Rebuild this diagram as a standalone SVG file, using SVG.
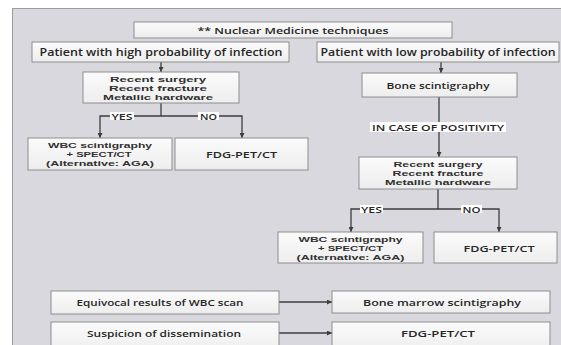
<svg xmlns="http://www.w3.org/2000/svg" width="561" height="345" viewBox="0 0 561 345">
<defs>
<linearGradient id="bg" x1="0" y1="0" x2="0" y2="1">
<stop offset="0" stop-color="#fbfbfb"/>
<stop offset="1" stop-color="#ededed"/>
</linearGradient>
<marker id="ah" viewBox="0 0 6 6" refX="6" refY="3" markerWidth="5" markerHeight="5" markerUnits="userSpaceOnUse" orient="auto">
<path d="M0,0 L6,3 L0,6 z" fill="#3c3c3c"/>
</marker>
</defs>
<style>
.box{fill:url(#bg);stroke:#8e8e8e;stroke-width:1}
.t{font-family:"Open Sans","Liberation Sans",sans-serif;font-weight:600;font-size:9.5px;fill:#262626;text-anchor:middle}
.big{font-size:10.5px}
.m{font-family:"Liberation Sans",Arial,sans-serif;font-weight:bold;font-size:8px;fill:#303030;text-anchor:middle}
.ln{fill:none;stroke:#3c3c3c;stroke-width:1.3}
.arr{fill:none;stroke:#3c3c3c;stroke-width:1.3;marker-end:url(#ah)}
.lab{fill:#ffffff}
</style>
<rect width="561" height="345" fill="#ffffff"/>
<rect x="12.5" y="8.5" width="560" height="350" fill="#d9d8de" stroke="#9c9c9c" stroke-width="1"/>

<g id="connectors">
<line class="arr" x1="161" y1="62" x2="161" y2="72"/>
<line class="arr" x1="441" y1="62" x2="441" y2="73"/>
<line class="arr" x1="439" y1="97" x2="439" y2="157"/>
<polyline class="ln" points="161,103 161,116"/>
<polyline class="arr" points="161,116 100,116 100,138"/>
<polyline class="arr" points="161,116 242,116 242,138"/>
<polyline class="ln" points="438,189 438,209"/>
<polyline class="arr" points="438,209 351,209 351,232"/>
<polyline class="arr" points="438,209 499,209 499,232"/>
<line class="arr" x1="279" y1="302" x2="332" y2="302"/>
<line class="arr" x1="279" y1="333" x2="332" y2="333"/>
<rect class="lab" x="110" y="112" width="24" height="8"/>
<text class="t" x="122" y="119.5" textLength="21" lengthAdjust="spacingAndGlyphs">YES</text>
<rect class="lab" x="198" y="112" width="21" height="8"/>
<text class="t" x="208.5" y="119.5" textLength="17" lengthAdjust="spacingAndGlyphs">NO</text>
<rect class="lab" x="370" y="122" width="136" height="10"/>
<text class="t" x="438" y="130.5" textLength="132" lengthAdjust="spacingAndGlyphs">IN CASE OF POSITIVITY</text>
<rect class="lab" x="360" y="205" width="23" height="8"/>
<text class="t" x="371.5" y="212.5" textLength="21" lengthAdjust="spacingAndGlyphs">YES</text>
<rect class="lab" x="461" y="205" width="21" height="8"/>
<text class="t" x="471.5" y="212.5" textLength="18" lengthAdjust="spacingAndGlyphs">NO</text>
</g>

<g id="title">
<rect class="box" x="134" y="22" width="318" height="16"/>
<text class="t" x="293" y="33.5" textLength="191" lengthAdjust="spacingAndGlyphs">** Nuclear Medicine techniques</text>
</g>

<g id="high">
<rect class="box" x="32" y="42" width="257" height="20"/>
<text class="t big" x="161" y="55.5" textLength="243" lengthAdjust="spacingAndGlyphs">Patient with high probability of infection</text>
</g>

<g id="low">
<rect class="box" x="317" y="42" width="242" height="20"/>
<text class="t big" x="438" y="55.5" textLength="235" lengthAdjust="spacingAndGlyphs">Patient with low probability of infection</text>
</g>

<g id="risk1">
<rect class="box" x="83" y="72" width="156" height="31"/>
<text class="m" x="158" y="81.5" textLength="96" lengthAdjust="spacingAndGlyphs">Recent surgery</text>
<text class="m" x="158" y="90.5" textLength="98" lengthAdjust="spacingAndGlyphs">Recent fracture</text>
<text class="m" x="158" y="99.5" textLength="110" lengthAdjust="spacingAndGlyphs">Metallic hardware</text>
</g>

<g id="bone">
<rect class="box" x="362" y="73" width="155" height="24"/>
<text class="t" x="438" y="89" textLength="103" lengthAdjust="spacingAndGlyphs">Bone scintigraphy</text>
</g>

<g id="wbc1">
<rect class="box" x="28" y="138" width="144" height="32"/>
<text class="m" x="100" y="148" textLength="104" lengthAdjust="spacingAndGlyphs">WBC scintigraphy</text>
<text class="m" x="99" y="157" textLength="65" lengthAdjust="spacingAndGlyphs">+ SPECT/CT</text>
<text class="m" x="100" y="166" textLength="108" lengthAdjust="spacingAndGlyphs">(Alternative: AGA)</text>
</g>

<g id="fdg1">
<rect class="box" x="175" y="138" width="133" height="32"/>
<text class="t" x="241.5" y="157.5" textLength="71" lengthAdjust="spacingAndGlyphs">FDG-PET/CT</text>
</g>

<g id="risk2">
<rect class="box" x="359" y="157" width="158" height="32"/>
<text class="m" x="438" y="167" textLength="89" lengthAdjust="spacingAndGlyphs">Recent surgery</text>
<text class="m" x="438" y="176" textLength="91" lengthAdjust="spacingAndGlyphs">Recent fracture</text>
<text class="m" x="438" y="185" textLength="106" lengthAdjust="spacingAndGlyphs">Metallic hardware</text>
</g>

<g id="wbc2">
<rect class="box" x="278" y="232" width="145" height="31"/>
<text class="m" x="350.5" y="241.5" textLength="104" lengthAdjust="spacingAndGlyphs">WBC scintigraphy</text>
<text class="m" x="350.5" y="250.5" textLength="65" lengthAdjust="spacingAndGlyphs">+ SPECT/CT</text>
<text class="m" x="350.5" y="259.5" textLength="108" lengthAdjust="spacingAndGlyphs">(Alternative: AGA)</text>
</g>

<g id="fdg2">
<rect class="box" x="434" y="232" width="123" height="31"/>
<text class="t" x="499" y="251.5" textLength="71" lengthAdjust="spacingAndGlyphs">FDG-PET/CT</text>
</g>

<g id="equivocal">
<rect class="box" x="51" y="291" width="228" height="23"/>
<text class="t" x="160" y="306" textLength="167" lengthAdjust="spacingAndGlyphs">Equivocal results of WBC scan</text>
</g>

<g id="marrow">
<rect class="box" x="332" y="291" width="218" height="22"/>
<text class="t" x="442" y="305.5" textLength="158" lengthAdjust="spacingAndGlyphs">Bone marrow scintigraphy</text>
</g>

<g id="dissem">
<rect class="box" x="51" y="322" width="228" height="30"/>
<text class="t" x="164" y="336.5" textLength="154" lengthAdjust="spacingAndGlyphs">Suspicion of dissemination</text>
</g>

<g id="fdg3">
<rect class="box" x="332" y="322" width="218" height="30"/>
<text class="t" x="438" y="336.5" textLength="74" lengthAdjust="spacingAndGlyphs">FDG-PET/CT</text>
</g>
</svg>
